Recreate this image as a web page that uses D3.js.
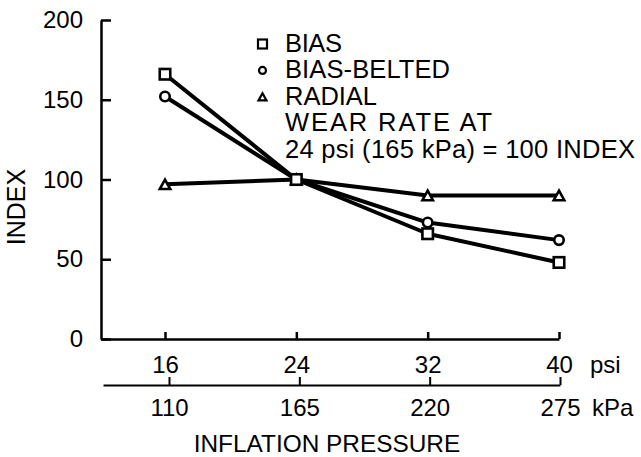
<!DOCTYPE html>
<html>
<head>
<meta charset="utf-8">
<script src="https://cdn.jsdelivr.net/npm/d3@7/dist/d3.min.js"></script>
<style>
  html, body { margin: 0; padding: 0; background: #fff; }
  svg { display: block; }
  text { font-family: "Liberation Sans", Arial, Helvetica, sans-serif; fill: #000; }
</style>
</head>
<body>
<svg id="chart" width="641" height="457"></svg>
<script>
// ---- data ----
const psiTicks = [16, 24, 32, 40];
const kpaTicks = [110, 165, 220, 275];
const indexTicks = [0, 50, 100, 150, 200];
const biasValues = [166, 100, 66, 48];
const biasBeltedValues = [152, 100, 73, 62];
const radialValues = [97, 100, 90, 90];
const seriesNames = ["BIAS", "BIAS-BELTED", "RADIAL"];
const seriesShapes = ["square", "circle", "triangle"];
const noteLines = ["WEAR RATE AT", "24 psi (165 kPa) = 100 INDEX"];

const series = [biasValues, biasBeltedValues, radialValues].map((v, i) => ({
  name: seriesNames[i], shape: seriesShapes[i],
  points: psiTicks.map((p, j) => ({ psi: p, value: v[j] }))
}));

const svg = d3.select("#chart");
const FS = 24;

// ---- scales ----
const x = d3.scaleLinear().domain([16, 40]).range([165, 559]);
const y = d3.scaleLinear().domain([0, 200]).range([339, 20]);
const axisLeftX = 101;
const xAxisScale = x.copy().domain([x.invert(axisLeftX), 40]).range([axisLeftX, 559]);
const k = d3.scaleLinear().domain([110, 275]).range([169, 560]);
const kAxisScale = k.copy().domain([k.invert(103), 275]).range([103, 560]);

// ---- y axis ----
const gy = svg.append("g").attr("transform", `translate(${axisLeftX},0)`)
  .call(d3.axisLeft(y).tickValues(indexTicks).tickSizeInner(-10).tickSizeOuter(0).tickPadding(18));
gy.selectAll("path, line").attr("stroke", "#000").attr("stroke-width", 2.5);
gy.selectAll("text").attr("font-size", FS).attr("font-family", null);

svg.append("text")
  .attr("transform", `translate(25,207) rotate(-90)`)
  .attr("text-anchor", "middle")
  .attr("font-size", 25)
  .text("INDEX");

// ---- psi axis ----
const gx = svg.append("g").attr("transform", `translate(0,${y(0)})`)
  .call(d3.axisBottom(xAxisScale).tickValues(psiTicks).tickSizeInner(-7).tickSizeOuter(0).tickPadding(17));
gx.selectAll("path, line").attr("stroke", "#000").attr("stroke-width", 2.5);
gx.selectAll("text").attr("font-size", FS).attr("font-family", null);
svg.append("text").attr("x", 590).attr("y", y(0) + 17).attr("dy", "0.71em")
  .attr("font-size", FS).text("psi");

// ---- kPa axis ----
const kY = 385;
const gk = svg.append("g").attr("transform", `translate(0,${kY})`)
  .call(d3.axisBottom(kAxisScale).tickValues(kpaTicks).tickSizeInner(-8).tickSizeOuter(0).tickPadding(14));
gk.selectAll("path, line").attr("stroke", "#000").attr("stroke-width", 2);
gk.selectAll("text").attr("font-size", FS).attr("font-family", null);
svg.append("text").attr("x", 592).attr("y", kY + 14).attr("dy", "0.71em")
  .attr("font-size", FS).text("kPa");

svg.append("text").attr("x", 327).attr("y", 452)
  .attr("text-anchor", "middle").attr("font-size", 24.4)
  .text("INFLATION PRESSURE");

// ---- marker helper ----
function drawMarker(g, shape, cx, cy, s, sw) {
  if (shape === "square") {
    g.append("rect").attr("x", cx - s / 2).attr("y", cy - s / 2)
      .attr("width", s).attr("height", s)
      .attr("fill", "#fff").attr("stroke", "#000").attr("stroke-width", sw);
  } else if (shape === "circle") {
    g.append("circle").attr("cx", cx).attr("cy", cy).attr("r", s / 2 - 0.5)
      .attr("fill", "#fff").attr("stroke", "#000").attr("stroke-width", sw);
  } else {
    const h = s * 0.9;
    g.append("path")
      .attr("d", `M${cx},${cy - h / 2}L${cx + s / 2},${cy + h / 2}L${cx - s / 2},${cy + h / 2}Z`)
      .attr("fill", "#fff").attr("stroke", "#000").attr("stroke-width", sw)
      .attr("stroke-linejoin", "miter");
  }
}

// ---- lines ----
const line = d3.line().x(d => x(d.psi)).y(d => y(d.value));
const gl = svg.append("g");
series.forEach(s => {
  gl.append("path").datum(s.points).attr("d", line)
    .attr("fill", "none").attr("stroke", "#000").attr("stroke-width", 4)
    .attr("stroke-linejoin", "round");
});
const gm = svg.append("g");
series.slice().reverse().forEach(s => {
  s.points.forEach(d => drawMarker(gm, s.shape, x(d.psi), y(d.value), 10.5, 2.6));
});

// ---- legend ----
const legendX = 262.5, legendTextX = 285, baseline0 = 52, lineGap = 26.4;
const LFS = 25.5;
const legendWidths = [57, 165, 92, 207, 350];
const gLeg = svg.append("g");
seriesNames.forEach((n, i) => {
  const by = baseline0 + i * lineGap;
  drawMarker(gLeg, seriesShapes[i], legendX, by - 8, i === 0 ? 9 : 8, 2.2);
  gLeg.append("text").attr("x", legendTextX).attr("y", by).attr("font-size", LFS)
    .attr("textLength", legendWidths[i]).attr("lengthAdjust", "spacing").text(n);
});
noteLines.forEach((t, j) => {
  gLeg.append("text").attr("x", legendTextX).attr("y", baseline0 + (3 + j) * lineGap)
    .attr("font-size", LFS)
    .attr("textLength", legendWidths[3 + j]).attr("lengthAdjust", "spacing").text(t);
});
</script>
</body>
</html>
